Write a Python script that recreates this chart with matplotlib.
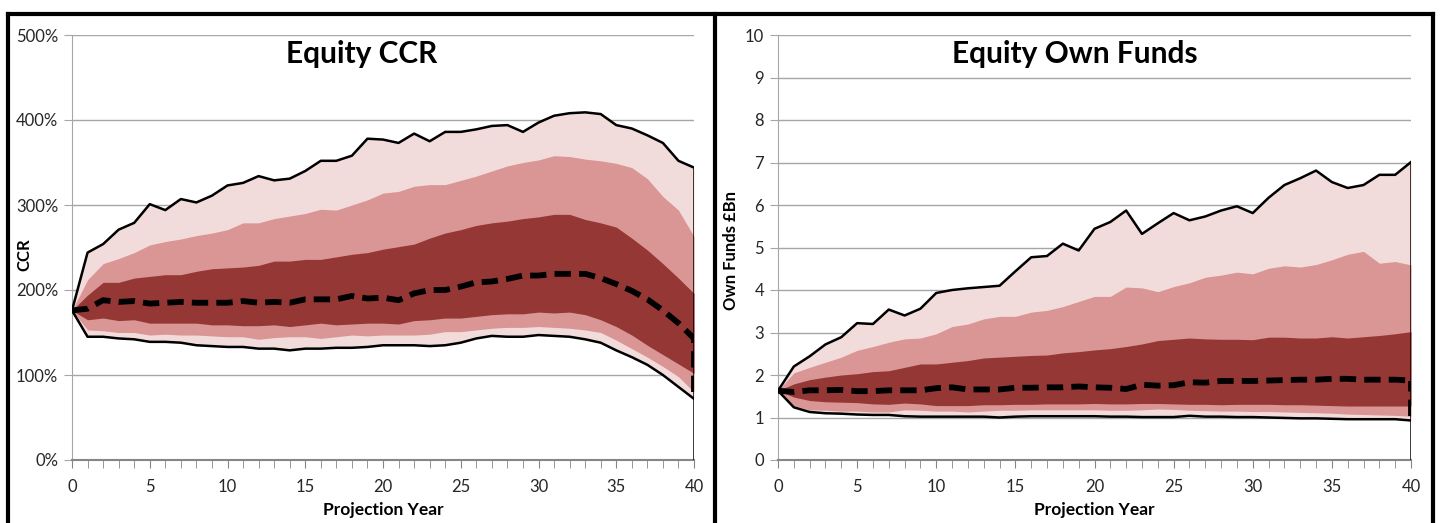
import matplotlib.pyplot as plt
from matplotlib.lines import Line2D
from matplotlib.ticker import MultipleLocator, FuncFormatter

plt.rcParams['font.family'] = ['Lato', 'DejaVu Sans']

# Projection years
years = list(range(0, 41))

# Equity CCR percentiles (%)
ccr_max = [176, 244, 254, 271, 279, 301, 294, 307, 303, 311, 323, 326, 334, 329, 331, 340, 352, 352, 358, 378, 377,
           373, 384, 375, 386, 386, 389, 393, 394, 386, 397, 405, 408, 409, 407, 394, 390, 382, 373, 352, 344]
ccr_p95 = [176, 212, 231, 237, 244, 253, 257, 260, 264, 267, 271, 279, 279, 284, 287, 290, 295, 294, 300, 306, 314,
           316, 322, 324, 324, 329, 334, 340, 346, 350, 353, 358, 357, 354, 352, 349, 344, 331, 310, 294, 263]
ccr_p75 = [176, 194, 209, 209, 214, 216, 218, 218, 222, 225, 226, 227, 229, 234, 234, 236, 236, 239, 242, 244, 248,
           251, 254, 261, 267, 271, 276, 279, 281, 284, 286, 289, 289, 283, 279, 274, 261, 247, 231, 214, 196]
ccr_med = [176, 178, 188, 186, 187, 184, 185, 186, 185, 185, 185, 187, 185, 186, 185, 189, 189, 189, 193, 190, 191,
           188, 196, 200, 200, 204, 209, 210, 213, 217, 217, 219, 219, 219, 214, 207, 199, 189, 176, 161, 143]
ccr_p25 = [176, 165, 167, 164, 165, 161, 161, 161, 161, 159, 159, 158, 158, 159, 157, 159, 161, 159, 160, 161, 161,
           160, 164, 165, 167, 167, 169, 171, 172, 172, 174, 173, 174, 171, 165, 157, 147, 135, 124, 113, 102]
ccr_p5 = [176, 153, 152, 150, 150, 147, 148, 147, 147, 146, 145, 145, 142, 144, 145, 145, 143, 145, 147, 146, 147,
          147, 147, 148, 151, 151, 153, 155, 156, 156, 157, 156, 155, 153, 150, 141, 131, 121, 110, 98, 80]
ccr_min = [176, 145, 145, 143, 142, 139, 139, 138, 135, 134, 133, 133, 131, 131, 129, 131, 131, 132, 132, 133, 135,
           135, 135, 134, 135, 138, 143, 146, 145, 145, 147, 146, 145, 142, 138, 129, 121, 112, 100, 86, 72]

# Equity own funds percentiles (GBP bn)
of_max = [1.63, 2.2, 2.44, 2.72, 2.89, 3.22, 3.2, 3.54, 3.40, 3.56, 3.93, 4.0, 4.04, 4.07, 4.1, 4.44, 4.77, 4.80,
          5.09, 4.93, 5.44, 5.6, 5.87, 5.32, 5.57, 5.81, 5.64, 5.73, 5.87, 5.97, 5.81, 6.17, 6.47, 6.63, 6.81, 6.54,
          6.40, 6.47, 6.71, 6.71, 7.01]
of_p95 = [1.63, 2.05, 2.18, 2.30, 2.42, 2.58, 2.67, 2.77, 2.85, 2.87, 2.97, 3.14, 3.2, 3.32, 3.38, 3.38, 3.48, 3.52,
          3.61, 3.73, 3.85, 3.85, 4.07, 4.05, 3.96, 4.08, 4.17, 4.3, 4.35, 4.42, 4.38, 4.51, 4.57, 4.54, 4.60, 4.71,
          4.84, 4.91, 4.63, 4.67, 4.59]
of_p75 = [1.63, 1.79, 1.89, 1.95, 2.0, 2.03, 2.08, 2.1, 2.18, 2.26, 2.26, 2.3, 2.34, 2.40, 2.42, 2.44, 2.46, 2.47,
          2.52, 2.55, 2.59, 2.62, 2.67, 2.73, 2.81, 2.84, 2.87, 2.85, 2.84, 2.84, 2.83, 2.89, 2.89, 2.87, 2.87, 2.9,
          2.87, 2.9, 2.93, 2.97, 3.02]
of_med = [1.63, 1.6, 1.64, 1.64, 1.65, 1.62, 1.62, 1.64, 1.64, 1.64, 1.69, 1.71, 1.66, 1.66, 1.66, 1.70, 1.70, 1.71,
          1.71, 1.73, 1.71, 1.70, 1.67, 1.77, 1.75, 1.76, 1.83, 1.82, 1.86, 1.86, 1.86, 1.87, 1.88, 1.89, 1.89, 1.91,
          1.91, 1.89, 1.89, 1.89, 1.87]
of_p25 = [1.63, 1.48, 1.40, 1.37, 1.36, 1.35, 1.32, 1.31, 1.34, 1.32, 1.28, 1.28, 1.28, 1.30, 1.30, 1.31, 1.31, 1.32,
          1.32, 1.32, 1.33, 1.32, 1.32, 1.33, 1.33, 1.32, 1.31, 1.31, 1.30, 1.31, 1.31, 1.31, 1.30, 1.30, 1.29, 1.28,
          1.27, 1.27, 1.27, 1.27, 1.27]
of_p5 = [1.63, 1.28, 1.18, 1.17, 1.15, 1.15, 1.13, 1.13, 1.18, 1.17, 1.15, 1.15, 1.13, 1.15, 1.17, 1.17, 1.18, 1.18,
         1.18, 1.18, 1.18, 1.17, 1.17, 1.18, 1.20, 1.19, 1.17, 1.16, 1.15, 1.15, 1.14, 1.14, 1.13, 1.12, 1.11, 1.10,
         1.08, 1.07, 1.06, 1.05, 1.03]
of_min = [1.63, 1.24, 1.13, 1.10, 1.09, 1.07, 1.06, 1.06, 1.03, 1.02, 1.02, 1.02, 1.02, 1.02, 1.0, 1.02, 1.03, 1.03,
          1.03, 1.03, 1.03, 1.02, 1.02, 1.01, 1.01, 1.01, 1.04, 1.02, 1.02, 1.01, 1.01, 1.0, 0.99, 0.98, 0.98, 0.97,
          0.96, 0.96, 0.96, 0.96, 0.93]

LIGHT = '#f2dcdb'
MEDIUM = '#d99694'
DARK = '#953735'
GRID = '#a6a6a6'
AXIS = '#868686'


# Draw one fan chart: bands, max/min outline and dashed median
def fan_chart(ax, lo, p5, p25, med, p75, p95, hi):
    ax.fill_between(years, lo, hi, color=LIGHT, linewidth=0, zorder=2)
    ax.fill_between(years, p5, p95, color=MEDIUM, linewidth=0, zorder=3)
    ax.fill_between(years, p25, p75, color=DARK, linewidth=0, zorder=4)
    ax.plot(years, hi, color='black', linewidth=1.8, zorder=6)
    ax.plot(years, lo, color='black', linewidth=1.8, zorder=6)
    ax.vlines(years[-1], 0, hi[-1], color='black', linewidth=1.8, zorder=6)
    ax.plot(years, med, color='black', linewidth=4.2, dashes=(2.8, 1.4), dash_capstyle='butt', zorder=7)
    ax.vlines(years[-1], p5[-1], med[-1], color='black', linewidth=4.2, linestyles=(0, (2.8, 1.4)), zorder=7)

    ax.set_xlim(0, 40)
    ax.xaxis.set_major_locator(MultipleLocator(5))
    ax.xaxis.set_minor_locator(MultipleLocator(1))
    ax.grid(axis='y', color=GRID, linewidth=1, zorder=0)
    ax.set_axisbelow(True)
    for side in ['top', 'right']:
        ax.spines[side].set_visible(False)
    ax.spines['left'].set_color(GRID)
    ax.spines['bottom'].set_color(AXIS)
    ax.spines['bottom'].set_linewidth(1.5)
    ax.tick_params(axis='y', length=6, color=GRID, labelsize=12, pad=4, labelcolor='#262626')
    ax.tick_params(axis='x', which='major', length=6, color=AXIS, labelsize=12, pad=8, labelcolor='#262626')
    ax.tick_params(axis='x', which='minor', length=6, color=AXIS)
    ax.set_xlabel('Projection Year', fontsize=12.5, fontweight='bold', labelpad=5)


fig = plt.figure(figsize=(14.41, 5.23), dpi=100)

# Left panel: CCR
ax1 = fig.add_axes([72 / 1441, 63 / 523, 622 / 1441, 425 / 523])
fan_chart(ax1, ccr_min, ccr_p5, ccr_p25, ccr_med, ccr_p75, ccr_p95, ccr_max)
ax1.set_ylim(0, 500)
ax1.yaxis.set_major_locator(MultipleLocator(100))
ax1.yaxis.set_major_formatter(FuncFormatter(lambda v, p: f'{v:.0f}%'))
ax1.text(0.466, 0.955, 'Equity CCR', transform=ax1.transAxes, ha='center', va='center',
         fontsize=21.5, fontweight='bold')
fig.text(24 / 1441, 1 - 255 / 523, 'CCR', rotation=90, ha='center', va='center', fontsize=12, fontweight='bold')

# Right panel: own funds
ax2 = fig.add_axes([778 / 1441, 63 / 523, 633 / 1441, 425 / 523])
fan_chart(ax2, of_min, of_p5, of_p25, of_med, of_p75, of_p95, of_max)
ax2.set_ylim(0, 10)
ax2.yaxis.set_major_locator(MultipleLocator(1))
ax2.text(0.469, 0.955, 'Equity Own Funds', transform=ax2.transAxes, ha='center', va='center',
         fontsize=21.5, fontweight='bold')
fig.text(731 / 1441, 1 - 250 / 523, 'Own Funds £Bn', rotation=90, ha='center', va='center',
         fontsize=12, fontweight='bold')

# Black frames around the two panels
top = 1 - 14 / 523
for x in [8 / 1441, 715 / 1441, 1433 / 1441]:
    fig.add_artist(Line2D([x, x], [0, top], color='black', linewidth=3, transform=fig.transFigure))
fig.add_artist(Line2D([8 / 1441, 1433 / 1441], [top, top], color='black', linewidth=3,
                      transform=fig.transFigure, solid_capstyle='projecting'))

fig.savefig('out.png', dpi=100)
